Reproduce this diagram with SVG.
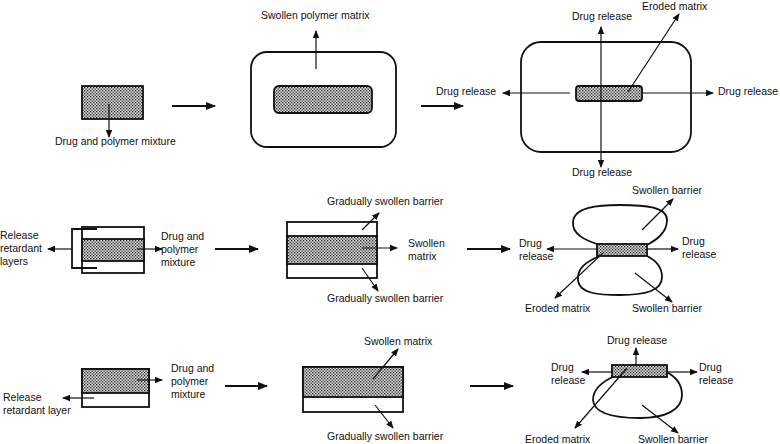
<svg xmlns="http://www.w3.org/2000/svg" width="780" height="444" viewBox="0 0 780 444">
<style>
text{font-family:"Liberation Sans",Arial,sans-serif;font-size:10.5px;fill:#111;}
.box{fill:#fff;stroke:#111;stroke-width:1.8;}
.dot{fill:url(#stip);stroke:#111;stroke-width:1.8;}
.ln{fill:none;stroke:#111;stroke-width:1.8;}
.c{fill:none;stroke:#111;stroke-width:1.2;marker-end:url(#ah);}
.c2{fill:none;stroke:#111;stroke-width:1.2;marker-start:url(#ahs);marker-end:url(#ah);}
.big{fill:none;stroke:#111;stroke-width:2.2;marker-end:url(#ahb);}
</style>
<defs>
<pattern id="stip" width="3" height="3" patternUnits="userSpaceOnUse">
<rect width="3" height="3" fill="#dcdcdc"/>
<rect x="0" y="0" width="1.3" height="1.3" fill="#222"/>
<rect x="1.5" y="1.5" width="1.3" height="1.3" fill="#222"/>
</pattern>
<marker id="ah" markerWidth="8" markerHeight="8" refX="7" refY="4" orient="auto" markerUnits="userSpaceOnUse">
<path d="M0,0.8 L8,4 L0,7.2 Z" fill="#111"/>
</marker>
<marker id="ahs" markerWidth="8" markerHeight="8" refX="1" refY="4" orient="auto" markerUnits="userSpaceOnUse">
<path d="M8,0.8 L0,4 L8,7.2 Z" fill="#111"/>
</marker>
<marker id="ahb" markerWidth="10" markerHeight="10" refX="9" refY="5" orient="auto" markerUnits="userSpaceOnUse">
<path d="M0,1 L10,5 L0,9 Z" fill="#111"/>
</marker>
</defs>
<rect width="780" height="444" fill="#fff"/>

<!-- Row 1 -->
<g id="r1-tablet">
<rect class="dot" x="82" y="86" width="61" height="33"/>
<text x="55" y="145">Drug and polymer mixture</text>
</g>
<g id="r1-swollen">
<rect class="box" x="251" y="52" width="145" height="95" rx="16"/>
<rect class="dot" x="274" y="86" width="98" height="27" rx="5"/>
<text x="261" y="19">Swollen polymer matrix</text>
</g>
<g id="r1-eroded">
<rect class="box" x="521" y="42" width="170" height="110" rx="20"/>
<rect class="dot" x="576" y="86" width="66" height="15" rx="3"/>
<text x="572" y="20">Drug release</text>
<text x="572" y="176">Drug release</text>
<text x="436" y="95">Drug release</text>
<text x="718" y="95">Drug release</text>
<text x="642" y="9.5">Eroded matrix</text>
</g>

<!-- Row 2 -->
<g id="r2-tablet">
<rect class="box" x="82" y="227" width="62" height="46"/>
<rect class="dot" x="82" y="239" width="62" height="22"/>
<path class="ln" d="M97,229 H72 V268 H97" stroke-width="1.4"/>
<text x="0" y="239">Release</text>
<text x="0" y="252">retardant</text>
<text x="0" y="265">layers</text>
<text x="161" y="240">Drug and</text>
<text x="161" y="253">polymer</text>
<text x="161" y="266">mixture</text>
</g>
<g id="r2-swollen">
<rect class="box" x="287" y="222" width="90" height="56"/>
<rect class="dot" x="287" y="236" width="90" height="28"/>
<text x="327" y="205">Gradually swollen barrier</text>
<text x="327" y="302">Gradually swollen barrier</text>
<text x="408" y="247">Swollen</text>
<text x="408" y="260">matrix</text>
</g>
<g id="r2-eroded">
<path class="ln" d="M600,245 C584,240 572,234 573,222 C574,207 598,205 620,205 C646,205 667,207 667,220 C667,233 656,240 647,245"/>
<path class="ln" d="M600,256 C585,262 577,269 578,280 C579,294 600,295 620,295 C645,295 662,291 662,277 C662,266 655,260 647,256"/>
<rect class="dot" x="597" y="244" width="50" height="12"/>
<text x="519" y="247">Drug</text>
<text x="519" y="260">release</text>
<text x="682" y="245">Drug</text>
<text x="682" y="258">release</text>
<text x="632" y="194">Swollen barrier</text>
<text x="525" y="312">Eroded matrix</text>
<text x="632" y="312">Swollen barrier</text>
</g>

<!-- Row 3 -->
<g id="r3-tablet">
<rect class="box" x="82" y="369" width="67" height="38"/>
<rect class="dot" x="82" y="369" width="67" height="24"/>
<text x="3" y="401">Release</text>
<text x="3" y="414">retardant layer</text>
<text x="171" y="372">Drug and</text>
<text x="171" y="385">polymer</text>
<text x="171" y="398">mixture</text>
</g>
<g id="r3-swollen">
<rect class="box" x="303" y="367" width="100" height="45"/>
<rect class="dot" x="303" y="367" width="100" height="30"/>
<text x="364" y="345">Swollen matrix</text>
<text x="327" y="440">Gradually swollen barrier</text>
</g>
<g id="r3-eroded">
<path class="ln" d="M615,376 C601,382 593,390 593,400 C594,414 615,418 640,418 C665,418 682,410 682,395 C682,383 675,377 667,372"/>
<rect class="dot" x="612" y="365" width="55" height="12"/>
<text x="607" y="344">Drug release</text>
<text x="551" y="371">Drug</text>
<text x="551" y="384">release</text>
<text x="699" y="371">Drug</text>
<text x="699" y="384">release</text>
<text x="525" y="443">Eroded matrix</text>
<text x="638" y="443">Swollen barrier</text>
</g>

<g id="connectors">
<!-- row 1 -->
<line class="c" x1="109" y1="104" x2="109" y2="137"/>
<line class="big" x1="172" y1="106" x2="215" y2="106"/>
<line class="c" x1="316" y1="69" x2="316" y2="31"/>
<line class="big" x1="421" y1="106" x2="463" y2="106"/>
<line class="c2" x1="601" y1="27" x2="601" y2="167"/>
<line class="c" x1="570" y1="93" x2="503" y2="93"/>
<line class="c" x1="642" y1="93" x2="713" y2="93"/>
<line class="c" x1="628" y1="92" x2="679" y2="14"/>
<!-- row 2 -->
<line class="c" x1="72" y1="249" x2="48" y2="249"/>
<line class="c" x1="137" y1="249" x2="162" y2="249"/>
<line class="big" x1="215" y1="249" x2="258" y2="249"/>
<line class="c" x1="362" y1="230" x2="379" y2="213"/>
<line class="c" x1="362" y1="248" x2="397" y2="248"/>
<line class="c" x1="362" y1="268" x2="378" y2="291"/>
<line class="big" x1="467" y1="249" x2="510" y2="249"/>
<line class="c" x1="597" y1="249" x2="547" y2="249"/>
<line class="c" x1="647" y1="249" x2="678" y2="249"/>
<line class="c" x1="642" y1="230" x2="673" y2="199"/>
<line class="c" x1="603" y1="253" x2="555" y2="298"/>
<line class="c" x1="635" y1="273" x2="672" y2="302"/>
<!-- row 3 -->
<line class="c" x1="94" y1="398" x2="63" y2="398"/>
<line class="c" x1="137" y1="380" x2="162" y2="380"/>
<line class="big" x1="225" y1="386" x2="267" y2="386"/>
<line class="c" x1="373" y1="379" x2="398" y2="349"/>
<line class="c" x1="375" y1="405" x2="393" y2="428"/>
<line class="big" x1="470" y1="386" x2="513" y2="386"/>
<line class="c" x1="636" y1="365" x2="636" y2="348"/>
<line class="c" x1="612" y1="372" x2="582" y2="372"/>
<line class="c" x1="667" y1="372" x2="697" y2="372"/>
<line class="c" x1="627" y1="368" x2="575" y2="428"/>
<line class="c" x1="642" y1="405" x2="678" y2="433"/>
</g>
</svg>
